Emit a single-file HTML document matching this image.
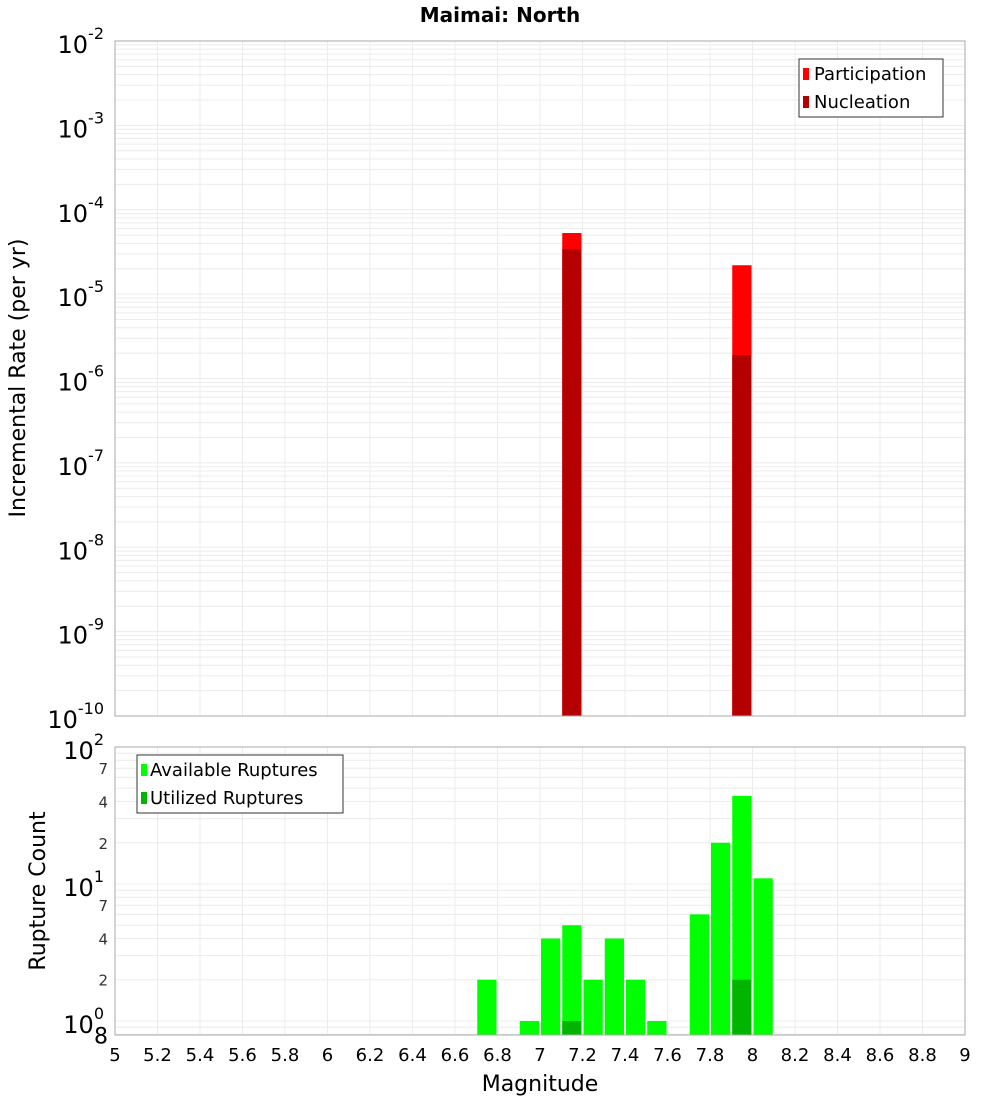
<!DOCTYPE html>
<html><head><meta charset="utf-8"><style>
body{margin:0;background:#fff;width:1000px;height:1100px;overflow:hidden}
svg{font-family:"DejaVu Sans","Liberation Sans",sans-serif}
</style></head><body>
<svg id="c" width="1000" height="1100" xmlns="http://www.w3.org/2000/svg"></svg>
<script>
const magBins=[6.75,6.95,7.05,7.15,7.25,7.35,7.45,7.55,7.75,7.85,7.95,8.05];
const availCounts=[2,1,4,5,2,4,2,1,6,20,44,11];
const utilBins=[7.15,7.95];
const utilCounts=[1,2];
const rateBins=[7.15,7.95];
const partRates=[5.3e-5,2.2e-5];
const nuclRates=[3.4e-5,1.9e-6];
const xTicks=[5,5.2,5.4,5.6,5.8,6,6.2,6.4,6.6,6.8,7,7.2,7.4,7.6,7.8,8,8.2,8.4,8.6,8.8,9];

const svg=document.getElementById('c');
const NS='http://www.w3.org/2000/svg';
function el(tag,attrs,parent,name,text){const e=document.createElementNS(NS,tag);for(const k in attrs)e.setAttribute(k,attrs[k]);


if(text!==undefined)e.textContent=text;(parent||svg).appendChild(e);return e;}
const X0=115,X1=965;
const xs=m=>X0+(m-5)/4*(X1-X0);
// top axis
const T0=41,T1=716;
const yT=v=>T0+(-2-Math.log10(v))/8*(T1-T0);
// bottom axis
const B0=747,B1=1035,BMIN=0.79;
const yB=v=>B0+(2-Math.log10(v))/(2-Math.log10(BMIN))*(B1-B0);

// grids
for(let d=-10;d<-2;d++){for(let k=1;k<10;k++){const y=yT(k*Math.pow(10,d));el('line',{x1:X0,x2:X1,y1:y,y2:y,stroke:'#ececec','stroke-width':1},svg,'top-grid-h');}}
[0.8,0.9,1,2,3,4,5,6,7,8,9,10,20,30,40,50,60,70,80,90].forEach(v=>{const y=yB(v);el('line',{x1:X0,x2:X1,y1:y,y2:y,stroke:'#ececec','stroke-width':1},svg,'bottom-grid-h');});
xTicks.forEach(t=>{const x=xs(t);el('line',{x1:x,x2:x,y1:T0,y2:T1,stroke:'#ececec'},svg,'top-grid-v');el('line',{x1:x,x2:x,y1:B0,y2:B1,stroke:'#ececec'},svg,'bottom-grid-v');});

// top bars
const bw=0.1*(X1-X0)/4;
rateBins.forEach((m,i)=>{const x=xs(m)-bw/2+1;
el('rect',{x:x,y:yT(partRates[i]),width:bw-2,height:T1-yT(partRates[i]),fill:'#ff0000'},svg,'participation-bar');
el('rect',{x:x,y:yT(nuclRates[i]),width:bw-2,height:T1-yT(nuclRates[i]),fill:'#b40000'},svg,'nucleation-bar');});
// bottom bars
magBins.forEach((m,i)=>{const x=xs(m)-bw/2+1;const y=yB(availCounts[i]);
el('rect',{x:x,y:y,width:bw-2,height:B1-y,fill:'#00ff00'},svg,'available-bar');});
utilBins.forEach((m,i)=>{const x=xs(m)-bw/2+1;const y=yB(utilCounts[i]);
el('rect',{x:x,y:y,width:bw-2,height:B1-y,fill:'#00b400'},svg,'utilized-bar');});

// frames
el('rect',{x:X0,y:T0,width:X1-X0,height:T1-T0,fill:'none',stroke:'#aaa'},svg,'top-plot-frame');
el('rect',{x:X0,y:B0,width:X1-X0,height:B1-B0,fill:'none',stroke:'#aaa'},svg,'bottom-plot-frame');

// title
el('text',{x:500,y:22,'text-anchor':'middle','font-size':20,'font-weight':'bold'},svg,'chart-title','Maimai: North');
// top y ticks
for(let d=-2;d>=-10;d--){const y=yT(Math.pow(10,d));const g=el('text',{x:104,y:y+12,'text-anchor':'end','font-size':24},svg,'top-y-tick');
g.innerHTML='';const t1=el('tspan',{},g,'tick-base','10');const t2=el('tspan',{dy:-14,'font-size':16},g,'tick-exp',String(d));}
// bottom y ticks
[[100,'2'],[10,'1'],[1,'0']].forEach(([v,e])=>{const y=yB(v);const g=el('text',{x:104,y:y+12,'text-anchor':'end','font-size':24},svg,'bottom-y-tick');
el('tspan',{},g,'tick-base','10');el('tspan',{dy:-14,'font-size':16},g,'tick-exp',e);});
[[70,'7'],[40,'4'],[20,'2'],[7,'7'],[4,'4'],[2,'2']].forEach(([v,l])=>{el('text',{x:108,y:yB(v)+6,'text-anchor':'end','font-size':15,fill:'#333'},svg,'bottom-y-minor-tick',l);});
el('text',{x:108,y:yB(0.8)+9,'text-anchor':'end','font-size':22},svg,'bottom-y-minor-tick','8');
// x ticks
xTicks.forEach(t=>{el('text',{x:xs(t),y:1061,'text-anchor':'middle','font-size':18},svg,'x-tick',String(+t.toFixed(1)));});
el('text',{x:540,y:1091,'text-anchor':'middle','font-size':22},svg,'x-axis-title','Magnitude');
el('text',{x:0,y:0,'text-anchor':'middle','font-size':22,transform:'translate(25,378) rotate(-90)'},svg,'top-y-axis-title','Incremental Rate (per yr)');
el('text',{x:0,y:0,'text-anchor':'middle','font-size':22,transform:'translate(45,891) rotate(-90)'},svg,'bottom-y-axis-title','Rupture Count');

// legends
const lg1=el('g',{},svg,'top-legend');
el('rect',{x:799,y:59,width:144,height:58,fill:'#fff',stroke:'#333'},lg1,'legend-box');
el('rect',{x:803,y:68,width:6,height:12,fill:'#ff0000'},lg1,'legend-swatch-participation');
el('text',{x:814,y:80,'font-size':18},lg1,'legend-label-participation','Participation');
el('rect',{x:803,y:96,width:6,height:12,fill:'#b40000'},lg1,'legend-swatch-nucleation');
el('text',{x:814,y:108,'font-size':18},lg1,'legend-label-nucleation','Nucleation');
const lg2=el('g',{},svg,'bottom-legend');
el('rect',{x:137,y:755,width:206,height:58,fill:'#fff',stroke:'#333'},lg2,'legend-box');
el('rect',{x:141,y:764,width:6,height:12,fill:'#00ff00'},lg2,'legend-swatch-available');
el('text',{x:150,y:776,'font-size':18},lg2,'legend-label-available','Available Ruptures');
el('rect',{x:141,y:792,width:6,height:12,fill:'#00b400'},lg2,'legend-swatch-utilized');
el('text',{x:150,y:804,'font-size':18},lg2,'legend-label-utilized','Utilized Ruptures');
</script>
</body></html>
